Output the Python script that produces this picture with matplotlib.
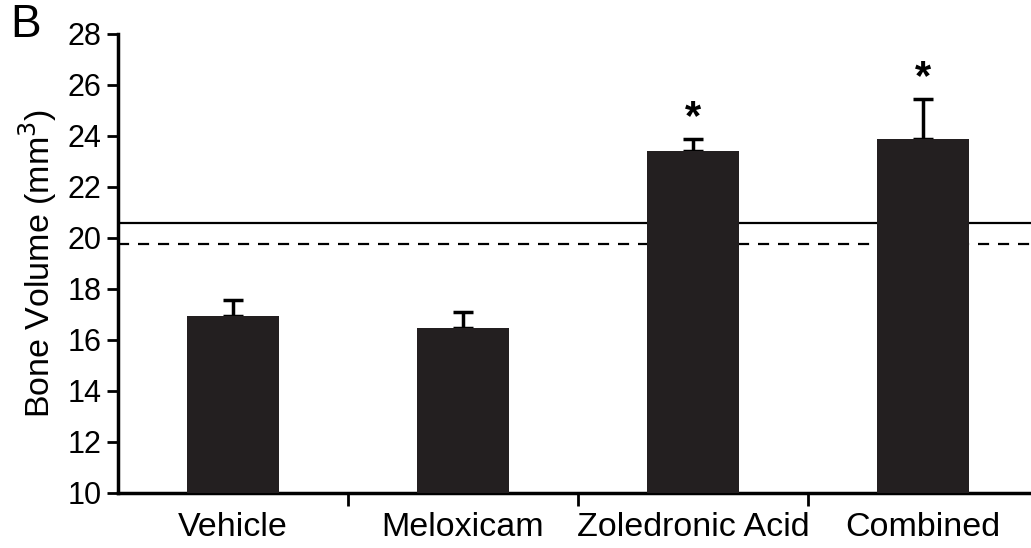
import numpy as np
import matplotlib
matplotlib.use("Agg")
import matplotlib.pyplot as plt

groups = ["Vehicle", "Meloxicam", "Zoledronic Acid", "Combined"]
means = [16.95, 16.47, 23.41, 23.88]
sems = [0.62, 0.62, 0.46, 1.56]
significant = [False, False, True, True]
solid_ref = 20.58
dashed_ref = 19.78

plt.rcParams['font.family'] = ['Liberation Sans', 'DejaVu Sans']

fig = plt.figure(figsize=(10.31, 5.48), dpi=100)
ax = fig.add_axes([0.1145, 0.1004, 0.89, 0.8376])

x = np.arange(len(groups))
ax.bar(x, means, width=0.40, color='#231f20', zorder=3)
ax.errorbar(x, means, yerr=[np.zeros(len(sems)), sems], fmt='none',
            ecolor='black', elinewidth=2.5, capsize=7, capthick=2.5, zorder=2)

ax.axhline(solid_ref, color='black', lw=1.6, zorder=1)
ax.axhline(dashed_ref, color='black', lw=1.6, ls=(0, (5, 4)), zorder=1)

for xi, m, s, sig in zip(x, means, sems, significant):
    if sig:
        ax.text(xi, m + s + 0.05, '*', ha='center', va='bottom',
                fontsize=30, fontweight='bold')

ax.set_xlim(-0.5, 3.49)
ax.set_ylim(10, 28)
ax.set_yticks(np.arange(10, 29, 2))
ax.set_xticks(x)
ax.set_xticklabels(groups)
ax.set_xticks([0.5, 1.5, 2.5], minor=True)
ax.tick_params(axis='x', which='major', length=0, pad=14, labelsize=24.5)
ax.tick_params(axis='x', which='minor', length=9, width=2, direction='out')
ax.tick_params(axis='y', length=8, width=2, direction='out', labelsize=22, pad=4)

for side in ['top', 'right']:
    ax.spines[side].set_visible(False)
for side in ['left', 'bottom']:
    ax.spines[side].set_linewidth(2.5)

ax.set_ylabel('Bone Volume (mm$^3$)', fontsize=24.5, labelpad=6)
fig.text(0.010, 0.995, 'B', fontsize=33, ha='left', va='top')

fig.savefig('out.png', dpi=100)
